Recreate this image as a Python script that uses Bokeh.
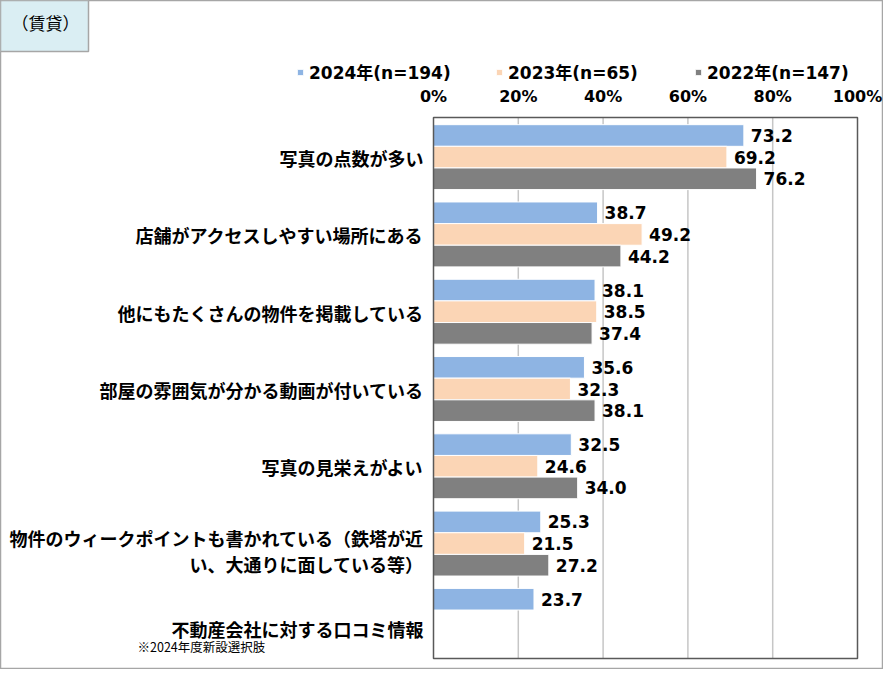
from bokeh.plotting import figure
from bokeh.models import (ColumnDataSource, Range1d, LabelSet, Label, Legend,
                          LegendItem, BoxAnnotation)
from bokeh.core.properties import value
from bokeh.embed import file_html
from bokeh.resources import INLINE

# ---------------- data ----------------
categories = [
    "写真の点数が多い",
    "店舗がアクセスしやすい場所にある",
    "他にもたくさんの物件を掲載している",
    "部屋の雰囲気が分かる動画が付いている",
    "写真の見栄えがよい",
    "物件のウィークポイントも書かれている（鉄塔が近\nい、大通りに面している等）",
    "不動産会社に対する口コミ情報",
]
series_names = ["2024年(n=194)", "2023年(n=65)", "2022年(n=147)"]
values_2024 = [73.2, 38.7, 38.1, 35.6, 32.5, 25.3, 23.7]
values_2023 = [69.2, 49.2, 38.5, 32.3, 24.6, 21.5, None]
values_2022 = [76.2, 44.2, 37.4, 38.1, 34.0, 27.2, None]
tick_values = [0, 20, 40, 60, 80, 100]
tick_labels = ["0%", "20%", "40%", "60%", "80%", "100%"]
panel_title = "（賃貸）"
note_text = "※2024年度新設選択肢"

# ---------------- style / geometry ----------------
colors = ["#8EB4E3", "#FBD5B5", "#808080"]
JP = "Noto Sans CJK JP"
NUM = "DejaVu Sans"
MIX = "DejaVu Sans, Noto Sans CJK JP"

W, H = 883, 669
PL, PR, PT, PB = 433, 857, 117, 658   # plot area edges (px)
n = len(categories)
PXX = (PR - PL) / 100.0               # px per x unit
PXY = (PB - PT) / n                   # px per category band


def X(cx):
    return (cx - PL) / PXX


def Y(cy):
    return (cy - PT) / PXY


def dy(px):
    return px / PXY


p = figure(width=W, height=H, output_backend="svg", toolbar_location=None,
           x_range=Range1d(X(0), X(W)), y_range=Range1d(Y(H), Y(0)),
           x_axis_location=None, y_axis_location=None,
           min_border_left=0, min_border_right=0, min_border_top=0, min_border_bottom=0)
p.background_fill_color = "white"
p.border_fill_color = "white"
p.outline_line_color = "#A6A6A6"
p.outline_line_width = 1.5
p.xgrid.visible = False
p.ygrid.visible = False

# vertical gridlines inside the plot area
p.segment(x0=tick_values[1:-1], x1=tick_values[1:-1], y0=[0] * (len(tick_values) - 2),
          y1=[n] * (len(tick_values) - 2), line_color="#C6C6C6", line_width=1.5)

# bars and value labels
bar_h = 0.28
series_values = [values_2024, values_2023, values_2022]
renderers = []
for k, vals in enumerate(series_values):
    ys, xs, txt = [], [], []
    for i, v in enumerate(vals):
        if v is None:
            continue
        ys.append(i + 0.5 + (k - 1) * bar_h + dy(1))
        xs.append(v)
        txt.append(f"{v:.1f}")
    src = ColumnDataSource(dict(y=ys, x=xs, t=txt))
    r = p.hbar(y="y", left=0, right="x", height=bar_h, source=src,
               fill_color=colors[k], line_color="white", line_width=1)
    renderers.append(r)
    p.add_layout(LabelSet(x="x", y="y", text="t", source=src, x_offset=7,
                          text_baseline="middle", text_align="left",
                          text_font=value(NUM), text_font_style="bold",
                          text_font_size="17px", text_color="#000000"))

# plot-area frame
p.add_layout(BoxAnnotation(left=0, right=100, top=0, bottom=n, fill_alpha=0,
                           line_color="#595959", line_width=1.5, line_alpha=1))

# x tick labels (above plot area)
tsrc = ColumnDataSource(dict(x=tick_values, y=[Y(96)] * len(tick_values), t=tick_labels))
p.add_layout(LabelSet(x="x", y="y", text="t", source=tsrc, text_align="center",
                      text_baseline="middle", text_font=value(NUM),
                      text_font_style="bold", text_font_size="16px",
                      text_color="#000000"))

# category labels (multi-line split into rows)
cy, cx, ct = [], [], []
for i, c in enumerate(categories):
    lines = c.split("\n")
    m = len(lines)
    extra = 2 if i < n - 1 else 9
    if m > 1:
        extra = 8
    for j, line in enumerate(lines):
        cy.append(i + 0.5 + dy(extra + (j - (m - 1) / 2) * 26))
        cx.append(0)
        ct.append(line)
csrc = ColumnDataSource(dict(x=cx, y=cy, t=ct))
p.add_layout(LabelSet(x="x", y="y", text="t", source=csrc, x_offset=-10,
                      text_align="right", text_baseline="middle",
                      text_font=value(JP), text_font_style="bold",
                      text_font_size="18px", text_color="#000000"))

# legend
legend = Legend(items=[LegendItem(label=s, renderers=[r]) for s, r in zip(series_names, renderers)],
                orientation="horizontal", location=(296, H - 84),
                label_text_font=MIX, label_text_font_style="bold",
                label_text_font_size="17px", label_text_color="#000000",
                glyph_width=8, glyph_height=8, label_standoff=5, spacing=42,
                label_width=144, padding=0, margin=0, label_height=20,
                background_fill_alpha=0, border_line_color=None)
p.add_layout(legend, "center")

# panel title box
p.add_layout(Label(x=X(0), y=Y(0), text=panel_title, anchor="top_left",
                   text_font=JP, text_font_size="17px", text_color="#000000",
                   background_fill_color="#DAEEF3", border_line_color="#A6A6A6",
                   border_line_width=1.5,
                   padding=dict(left=11, right=9, top=9, bottom=17)))

# note
p.add_layout(Label(x=X(137), y=Y(646), text=note_text, text_baseline="middle",
                   text_align="left", text_font=JP, text_font_size="12.5px",
                   text_color="#000000"))

open("out.html", "w").write(file_html(p, INLINE))
